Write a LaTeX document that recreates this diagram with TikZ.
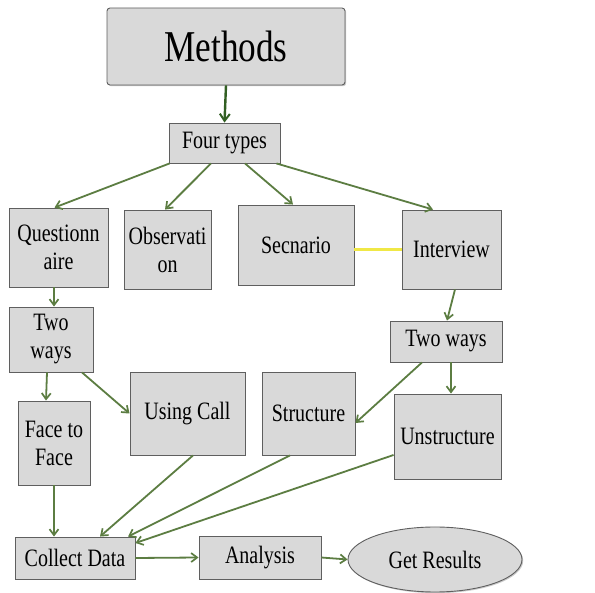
\documentclass[tikz,border=0pt]{standalone}
\usepackage{fontspec}
\setmainfont[FakeStretch=0.8]{Liberation Serif}
\usetikzlibrary{arrows.meta,shapes.geometric,shadows}
\definecolor{boxfill}{RGB}{217,217,217}
\definecolor{boxline}{RGB}{95,95,95}
\definecolor{arrowgreen}{RGB}{92,125,66}
\definecolor{darkgreen}{RGB}{50,95,35}
\definecolor{linkyellow}{RGB}{240,232,70}
\tikzset{
  box/.style={draw=boxline, fill=boxfill, line width=0.9pt, align=center,
    inner sep=1pt, font=\fontsize{25}{28}\selectfont,
    drop shadow={shadow xshift=1.2pt, shadow yshift=-1.2pt, fill=black!35, opacity=0.6}},
  conn/.style={draw=arrowgreen, line width=1.8pt,
    -{Straight Barb[length=6pt,width=9pt,line width=1.7pt]}},
  mainconn/.style={draw=darkgreen, line width=2.4pt,
    -{Straight Barb[length=7pt,width=10pt,line width=2pt]}},
}
\begin{document}
\begin{tikzpicture}[x=1pt,y=-1pt]
\useasboundingbox[fill=white] (0,0) rectangle (595,593);
\node[box, rounded corners=3pt, minimum width=238pt, minimum height=77pt,
  font=\fontsize{44}{48}\selectfont] (methods) at (226,46.5) {Methods};
\node[box, minimum width=111pt, minimum height=40pt] (four) at (224.5,143) {Four types};
\node[box, minimum width=99pt, minimum height=79pt] (q) at (58.5,247.5) {Questionn\\aire};
\node[box, minimum width=87pt, minimum height=79pt] (obs) at (167.5,249.5) {Observati\\on};
\node[box, minimum width=116pt, minimum height=80pt] (sec) at (296,245) {Secnario};
\node[box, minimum width=99pt, minimum height=79pt] (int) at (451.5,249.5) {Interview};
\node[box, minimum width=84pt, minimum height=65pt] (twoL) at (51,339.5) {Two\\ways};
\node[box, minimum width=112pt, minimum height=41pt] (twoR) at (446,341.5) {Two ways};
\node[box, minimum width=72pt, minimum height=84pt] (face) at (54,443) {Face to\\Face};
\node[box, minimum width=115pt, minimum height=83pt] (uc) at (187.5,413.5) {Using Call};
\node[box, minimum width=93pt, minimum height=83pt] (st) at (308.5,413.5) {Structure};
\node[box, minimum width=107pt, minimum height=85pt] (un) at (447.5,436.5) {Unstructure};
\node[box, minimum width=120pt, minimum height=42pt] (cd) at (75,558) {Collect Data};
\node[box, minimum width=122pt, minimum height=43pt] (an) at (260,557.5) {Analysis};
\node[box, ellipse, inner sep=0pt, minimum width=174pt, minimum height=65pt] (gr) at (435,559.5) {Get Results};

\draw[mainconn] (methods.south) -- (four.north);
\draw[conn] ([xshift=1pt]four.south west) -- ([xshift=-4pt]q.north);
\draw[conn] ([xshift=-13.5pt]four.south) -- ([xshift=-2.5pt]obs.north);
\draw[conn] ([xshift=20.5pt]four.south) -- ([xshift=-3pt]sec.north);
\draw[conn] ([xshift=-4pt]four.south east) -- ([xshift=-18.5pt]int.north);
\draw[draw=linkyellow, line width=2.2pt] (sec.east |- int.west) -- (int.west);
\draw[conn] ([xshift=-4.5pt]q.south) -- ([xshift=3pt]twoL.north);
\draw[conn] ([xshift=3.5pt]int.south) -- ([xshift=1pt]twoR.north);
\draw[conn] ([xshift=-4pt]twoL.south) -- ([xshift=-8pt]face.north);
\draw[conn] ([xshift=31pt]twoL.south) -- (uc.west);
\draw[conn] ([xshift=-24pt]twoR.south) -- ([yshift=-9.5pt]st.east);
\draw[conn] ([xshift=5pt]twoR.south) -- ([xshift=3.5pt]un.north);
\draw[conn] (face.south) -- ([xshift=-21pt]cd.north);
\draw[conn] ([xshift=5.5pt]uc.south) -- ([xshift=25pt]cd.north);
\draw[conn] ([xshift=-18.5pt]st.south) -- ([xshift=53pt]cd.north);
\draw[conn] ([yshift=-18.5pt]un.west) -- ([yshift=15pt]cd.east);
\draw[conn] (cd.east) -- (an.west);
\draw[conn] (an.east) -- (gr.west);
\end{tikzpicture}
\end{document}
